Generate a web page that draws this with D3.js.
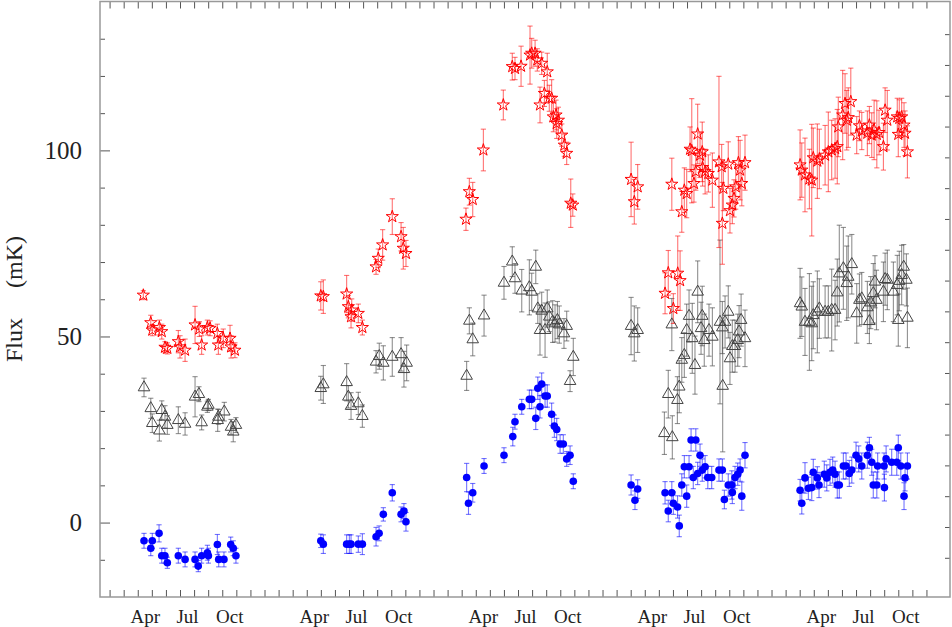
<!DOCTYPE html>
<html><head><meta charset="utf-8">
<script src="https://cdn.jsdelivr.net/npm/d3@7"></script>
<style>
html,body{margin:0;padding:0;background:#fff;}
svg{display:block;}
text{font-family:"Liberation Serif","Times New Roman",serif;fill:#222;}
</style></head>
<body>
<svg id="chart" width="952" height="627"></svg>
<script>
// ---------- DATA (dates in years since Jan 1 of the first season) ----------
const monthLabels = ["Apr", "Jul", "Oct"];
const monthLabelIndex = [3, 6, 9];
const seasons = [0, 1, 2, 3, 4];
const yMajorTicks = [0, 50, 100];

const starDate = [
0.283,0.327,0.336,0.378,0.392,0.411,0.425,0.490,0.500,0.530,0.589,0.614,0.628,0.662,0.678,0.721,0.727,0.756,0.796,0.802,0.825,
1.333,1.348,1.486,1.496,1.512,1.516,1.555,1.579,1.660,1.673,1.699,1.756,1.808,1.821,1.837,
2.192,2.212,2.232,2.295,2.413,2.466,2.482,2.518,2.571,2.581,2.601,2.614,2.630,2.640,2.656,2.673,2.685,2.699,2.709,2.725,2.729,2.739,2.759,2.774,2.788,2.812,2.824,
3.169,3.188,3.208,3.370,3.389,3.410,3.419,3.445,3.459,3.469,3.484,3.498,3.518,3.528,3.541,3.552,3.563,3.577,3.590,3.592,3.607,3.626,3.650,3.689,3.705,3.709,3.715,3.744,3.754,3.768,3.778,3.788,3.804,3.814,3.824,3.843,
4.169,4.179,4.198,4.224,4.238,4.247,4.271,4.283,4.317,4.336,4.356,4.376,4.389,4.395,4.421,4.435,4.445,4.454,4.469,4.504,4.520,4.534,4.567,4.579,4.593,4.607,4.623,4.636,4.662,4.672,4.685,4.744,4.750,4.756,4.770,4.784,4.790,4.804];
const starFlux = [
61.1,53.7,51.7,52.4,51.3,47.1,46.8,48.6,47.2,46.3,53.1,52.0,47.7,52.4,52.2,50.8,47.7,49.5,49.5,47.2,46.3,
60.9,60.7,61.4,58.0,55.3,57.1,56.2,52.4,68.7,71.0,74.6,82.2,76.8,73.7,72.3,
81.5,88.9,86.8,100.1,112.2,122.5,122.0,122.6,125.6,126.1,126.1,124.3,112.2,123.4,115.3,121.1,114.0,114.0,109.0,109.5,107.2,108.1,104.1,101.4,99.2,85.8,85.3,
92.2,86.2,90.2,61.6,67.1,90.9,57.5,67.0,65.0,83.5,89.3,88.4,100.3,99.9,91.1,94.3,104.4,98.7,99.6,95.4,94.3,93.8,92.0,96.9,95.6,80.4,89.8,96.3,83.8,85.3,87.1,90.2,96.7,94.7,91.1,96.7,
96.1,94.7,93.4,92.3,92.0,98.0,97.1,97.7,98.7,99.6,100.1,100.5,101.0,106.3,109.5,112.6,108.1,108.8,113.1,104.1,106.6,105.2,104.6,106.8,104.1,105.5,104.3,104.8,101.0,110.8,108.1,109.0,104.3,108.6,109.0,106.8,104.6,99.6];
const starErr = [
1.2,2,1.5,2,2,1.5,1.5,3,3,3,5,2,2.5,2,2,2.5,2.5,2.5,3.5,3,2,
3.8,4.5,5,3,3,3,2.5,2,2,2.5,4.1,4.8,3.8,5.6,3.5,
3,3.6,4.6,5.6,4,3.6,3,5.4,7.8,4,3.5,3,4.8,3,3.5,5,3.5,5,4,4,4,3.5,3,3,3,6.5,3,
10,6,6,5.5,6,7,4,10,8,5.5,6,6.5,6,14,5,5,8,6,8,5,6,5,7.3,23,6,11,6,6,6,5,5,6,7,8,6,7.4,
9.4,7.3,9.9,8,15,8,10,8,8,10.7,8,8,10,8,12,8,8,8,9,5,4,5,6,5,6,8,9,6,6.3,6,8,5,6,5,5,6,6,7];

const triDate = [
0.287,0.327,0.336,0.378,0.392,0.411,0.425,0.490,0.530,0.589,0.612,0.628,0.662,0.668,0.723,0.727,0.762,0.802,0.815,0.831,
1.333,1.348,1.486,1.496,1.512,1.555,1.579,1.660,1.679,1.703,1.756,1.808,1.825,1.841,
2.196,2.212,2.232,2.299,2.417,2.466,2.482,2.522,2.567,2.581,2.605,2.617,2.630,2.640,2.660,2.673,2.685,2.705,2.719,2.733,2.744,2.772,2.788,2.808,2.827,
3.169,3.188,3.208,3.366,3.389,3.410,3.413,3.443,3.454,3.469,3.484,3.498,3.512,3.531,3.547,3.563,3.583,3.590,3.602,3.630,3.650,3.695,3.709,3.711,3.725,3.744,3.754,3.768,3.784,3.800,3.808,3.820,3.843,
4.169,4.179,4.198,4.224,4.238,4.247,4.271,4.283,4.317,4.336,4.356,4.376,4.389,4.401,4.425,4.445,4.454,4.475,4.504,4.520,4.534,4.567,4.579,4.587,4.602,4.612,4.621,4.662,4.672,4.685,4.721,4.744,4.750,4.756,4.770,4.782,4.798,4.804];
const triFlux = [
36.3,30.7,26.7,24.7,30.2,28.4,26.2,27.5,26.5,33.8,34.5,26.9,31.1,31.6,27.5,28.4,29.8,25.7,24.4,26.2,
36.1,37.1,37.7,33.8,31.3,32.0,28.6,43.2,44.7,42.9,44.5,45.2,41.2,42.9,
39.4,54.2,49.2,55.6,64.4,70.1,65.6,62.3,63.2,62.0,68.7,57.5,51.7,56.9,51.7,57.5,55.3,54.0,53.5,54.4,53.2,50.8,52.8,38.0,44.5,
52.8,50.8,51.7,24.0,34.5,53.2,22.9,32.9,36.5,43.7,45.0,51.7,55.5,49.5,42.3,62.0,52.2,55.5,49.0,51.7,49.9,53.9,52.4,36.7,53.9,56.6,44.1,47.4,47.4,49.0,51.3,54.4,49.5,
58.9,58.0,53.9,53.9,53.5,55.7,56.6,57.5,56.6,56.6,57.1,57.1,61.8,66.9,68.3,64.3,66.0,69.4,56.2,59.8,60.2,57.8,54.1,59.1,61.6,64.7,59.8,62.0,65.4,65.2,62.0,63.8,54.4,64.9,66.5,68.7,65.2,55.0];
const triErr = [
2.5,2.7,2.5,2.8,2.5,3,2.5,3.6,3,5.4,2,2,1.5,1.5,3,2,2.5,2,2.7,2,
3.2,5.1,5,3,3.6,3,3,3,3.5,4.6,5.2,4.5,4.8,4.8,
3.9,3.5,4.4,5.5,4.4,4,4,5.7,7.4,5,4.5,4,6.7,5,7.3,5,4,5.6,5,5,5,4,4,2.8,5,
7.7,7.4,6,5.7,6.4,7,5.8,6.3,7,6,6,7,7,9.4,7.8,8.3,7,8,7,7,7.8,22,7,17.7,7,7,7,7,7,7,7,7,7.6,
9.4,8,9,13,10,9,11,8,7,7,11,8,9,13,11,10,11,8,8,7,7,7,6,7,8,7,8,8,7,8,8,8,7,8,8,6,7,8];

const dotDate = [
0.287,0.327,0.336,0.376,0.392,0.411,0.425,0.490,0.530,0.589,0.608,0.628,0.662,0.668,0.721,0.729,0.760,0.800,0.815,0.831,
1.333,1.348,1.486,1.502,1.512,1.555,1.579,1.660,1.678,1.703,1.756,1.808,1.825,1.837,
2.196,2.207,2.232,2.299,2.417,2.469,2.482,2.522,2.567,2.581,2.605,2.617,2.630,2.640,2.660,2.673,2.699,2.715,2.729,2.749,2.768,2.788,2.808,2.827,
3.169,3.192,3.208,3.370,3.389,3.410,3.419,3.444,3.454,3.469,3.484,3.498,3.512,3.524,3.537,3.552,3.563,3.577,3.590,3.607,3.623,3.646,3.689,3.709,3.721,3.744,3.765,3.768,3.784,3.800,3.814,3.824,3.843,
4.169,4.179,4.198,4.218,4.238,4.247,4.271,4.281,4.312,4.327,4.346,4.362,4.376,4.389,4.401,4.425,4.441,4.460,4.475,4.500,4.516,4.534,4.567,4.579,4.593,4.602,4.623,4.628,4.666,4.668,4.678,4.711,4.741,4.750,4.765,4.784,4.790,4.804];
const dotFlux = [
-4.9,-6.9,-4.9,-2.9,-8.9,-8.9,-10.8,-8.9,-9.9,-9.9,-11.7,-8.9,-8.1,-8.9,-5.9,-9.9,-9.9,-5.9,-6.9,-8.9,
-4.9,-5.8,-5.8,-5.8,-5.8,-5.8,-5.8,-3.8,-2.9,2.2,8.0,2.2,3.1,0.2,
12.1,5.2,8.0,15.2,18.1,23.1,27.1,31.1,33.1,33.1,28.0,36.1,31.1,37.2,34.0,34.0,29.1,25.9,25.0,21.1,21.1,17.1,18.1,11.1,
10.1,6.0,9.0,8.0,3.1,8.0,5.2,4.2,-0.9,10.1,15.0,7.1,15.0,22.2,12.1,22.2,13.2,18.1,14.1,15.0,12.1,12.1,14.1,14.1,6.2,10.1,10.1,8.1,12.1,13.0,14.1,7.1,18.1,
8.7,5.2,12.0,9.2,9.4,13.5,12.0,10.1,13.0,12.0,13.5,14.1,13.0,10.1,10.1,15.2,15.2,13.2,14.1,18.1,17.1,15.2,18.1,20.1,16.2,10.1,10.1,15.2,15.2,9.4,17.1,16.2,16.2,20.1,15.2,7.1,12.0,15.2];
const dotErr = [
2,2,2,2.3,2,2,1.5,2,2,2,1.5,2,2,2,2.7,2,2,2,2,2,
1.8,2.5,2.5,2.5,2.5,2.2,2.8,2.5,2,1.8,2.2,2,2,2.5,
3.8,3,2.5,2,2,2.5,2,2,2.5,2.5,3,3,3,3,3,3,3,3,3,2.5,2.5,2,2.5,2,
2.7,2.5,2.5,3,2.9,3,3,3,2.9,3,3,3,3,3,3,3,3,3,3,3,3,3,3,3,2.5,3,3.8,3,3,3,3,3.8,3.4,
2.9,2.9,4.1,3,3.5,3.5,3,3.4,3.5,3.5,3.5,3.5,3.5,3.5,3.5,3.5,3.5,3.5,3.5,3.5,3.5,3.5,3.5,2.8,3.5,3.5,3.5,3.5,3.5,3.6,3.5,3.5,3.5,3.4,3.5,3.6,3.5,3.5];

// ---------- LAYOUT ----------
const L = 100, R = 950, T = 1.5, B = 597;
const svg = d3.select("#chart");

const x = d3.scaleLinear().domain([0.0266, 5.056]).range([L, R]);
const y = d3.scaleLinear().domain([-20, 140]).range([B, T]);
const yRight = d3.scaleLinear().domain([-1.273, 18.06]).range([B, T]);

const monthTicks = d3.range(1, 60).map(m => m / 12);
const labelPos = [];
const labelText = [];
seasons.forEach(s => monthLabelIndex.forEach((m, i) => { labelPos.push(s + (m + 0.5) / 12); labelText.push(monthLabels[i]); }));

function styleAxis(g) {
  g.select(".domain").remove();
  g.selectAll(".tick line").attr("stroke", "#555").attr("stroke-width", 1);
}

// bottom & top month ticks
svg.append("g").attr("transform", `translate(0,${B})`)
  .call(d3.axisBottom(x).tickValues(monthTicks).tickSize(-7).tickFormat(""))
  .call(styleAxis);
svg.append("g").attr("transform", `translate(0,${T})`)
  .call(d3.axisTop(x).tickValues(monthTicks).tickSize(-7).tickFormat(""))
  .call(styleAxis);
// month labels
const lab = svg.append("g").attr("transform", `translate(0,${B})`)
  .call(d3.axisBottom(x).tickValues(labelPos).tickSize(0).tickPadding(12.5).tickFormat((d, i) => labelText[i]));
lab.select(".domain").remove();
lab.selectAll("text").attr("font-family", "Liberation Serif").attr("font-size", 19).attr("fill", "#222");

// left ticks
svg.append("g").attr("transform", `translate(${L},0)`)
  .call(d3.axisLeft(y).tickValues(d3.range(-10, 140, 10).filter(v => !yMajorTicks.includes(v))).tickSize(-5).tickFormat(""))
  .call(styleAxis);
const ly = svg.append("g").attr("transform", `translate(${L},0)`)
  .call(d3.axisLeft(y).tickValues(yMajorTicks).tickSize(-10).tickPadding(18))
  .call(styleAxis);
ly.selectAll("text").attr("font-family", "Liberation Serif").attr("font-size", 25).attr("fill", "#222");

// right ticks (secondary scale, unlabeled)
svg.append("g").attr("transform", `translate(${R},0)`)
  .call(d3.axisRight(yRight).tickValues(d3.range(0, 18)).tickSize(-5).tickFormat(""))
  .call(styleAxis);

// frame
svg.append("rect").attr("x", L).attr("y", T).attr("width", R - L).attr("height", B - T)
  .attr("fill", "none").attr("stroke", "#999").attr("stroke-width", 1.5);

// y label
svg.append("text").attr("transform", `translate(22,299) rotate(-90)`)
  .attr("text-anchor", "middle").attr("font-size", 24).attr("fill", "#222")
  .call(t => { t.append("tspan").text("Flux"); t.append("tspan").attr("dx", 30).text("(mK)"); });

// ---------- DATA MARKS ----------
function mk(dates, flux, err) { return dates.map((d, i) => ({ d, v: flux[i], e: err[i] })); }
const stars = mk(starDate, starFlux, starErr);
const tris = mk(triDate, triFlux, triErr);
const dots = mk(dotDate, dotFlux, dotErr);

const plot = svg.append("g");
function errorBars(data, color) {
  const g = plot.append("g").attr("stroke", color).attr("stroke-width", 1.1).attr("fill", "none");
  const cap = 2.6;
  data.forEach(p => {
    const cx = x(p.d), y1 = y(p.v + p.e), y0 = y(p.v - p.e);
    g.append("line").attr("x1", cx).attr("x2", cx).attr("y1", y1).attr("y2", y0);
    g.append("line").attr("x1", cx - cap).attr("x2", cx + cap).attr("y1", y1).attr("y2", y1);
    g.append("line").attr("x1", cx - cap).attr("x2", cx + cap).attr("y1", y0).attr("y2", y0);
  });
}
errorBars(tris, "rgba(70,70,70,0.6)");
errorBars(stars, "rgba(255,0,0,0.55)");
errorBars(dots, "rgba(0,0,255,0.55)");

const triPath = d3.symbol().type(d3.symbolTriangle).size(58)();
plot.append("g").selectAll("path").data(tris).join("path")
  .attr("d", triPath).attr("transform", p => `translate(${x(p.d)},${y(p.v)})`)
  .attr("fill", "none").attr("stroke", "#444").attr("stroke-width", 1);

const starPath = d3.symbol().type(d3.symbolStar).size(46)();
plot.append("g").selectAll("path").data(stars).join("path")
  .attr("d", starPath).attr("transform", p => `translate(${x(p.d)},${y(p.v)})`)
  .attr("fill", "none").attr("stroke", "#ff0000").attr("stroke-width", 1);

plot.append("g").selectAll("circle").data(dots).join("circle")
  .attr("cx", p => x(p.d)).attr("cy", p => y(p.v)).attr("r", 3.8)
  .attr("fill", "#0000ff");
</script>
</body></html>
